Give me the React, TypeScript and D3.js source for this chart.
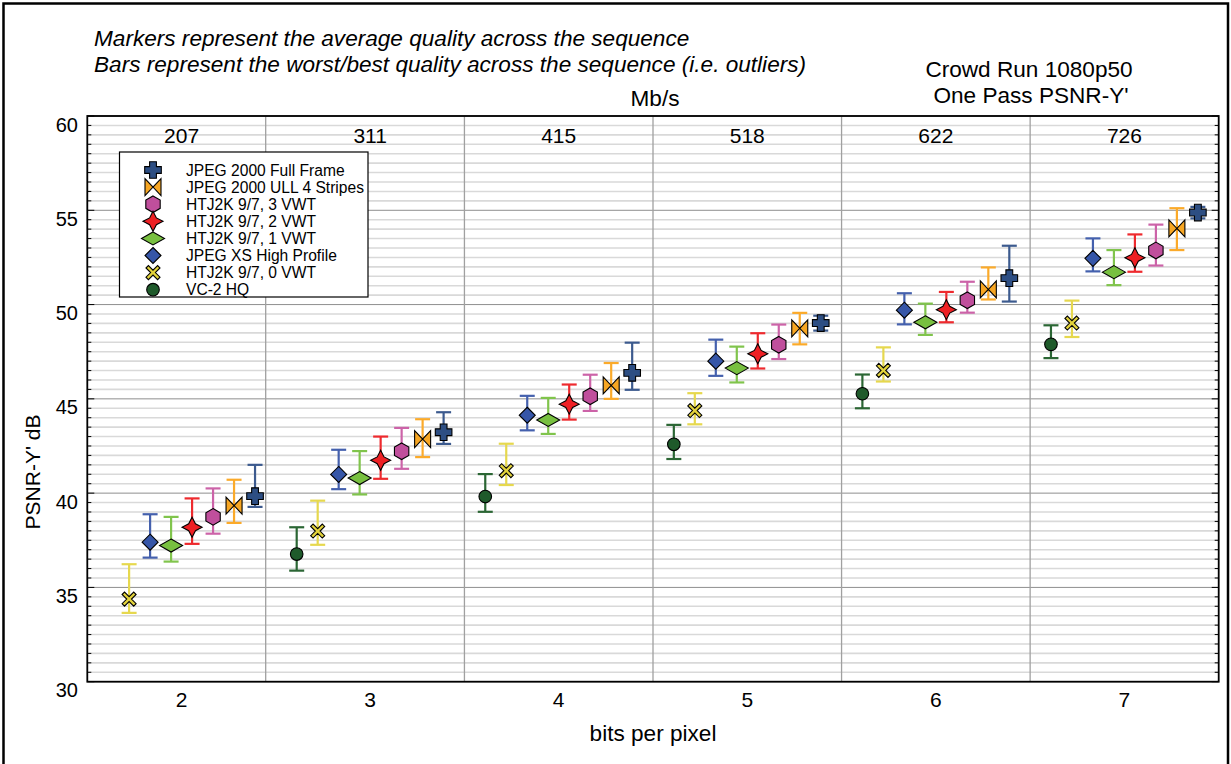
import React from 'react';
import * as d3 from 'd3';

// bits per pixel groups and matching bit rate at 1080p50
const bpp = [2, 3, 4, 5, 6, 7];
const mbps = ['207', '311', '415', '518', '622', '726'];
const dividers = [2.446, 3.5, 4.5, 5.5, 6.5];
const yTicks = [30, 35, 40, 45, 50, 55, 60];

// series, left-to-right inside each group (null = not measured)
const vc2Mean = [null, 36.77, 39.82, 42.59, 45.27, 47.89];
const vc2Lo = [null, 35.89, 39.01, 41.81, 44.5, 47.16];
const vc2Hi = [null, 38.19, 41.01, 43.62, 46.29, 48.9];

const htj0Mean = [34.38, 37.99, 41.19, 44.38, 46.51, 49.02];
const htj0Lo = [33.65, 37.26, 40.43, 43.65, 45.92, 48.28];
const htj0Hi = [36.23, 39.6, 42.62, 45.3, 47.73, 50.21];

const xsMean = [37.4, 40.99, 44.13, 47.0, 49.7, 52.45];
const xsLo = [36.58, 40.21, 43.33, 46.22, 48.95, 51.76];
const xsHi = [38.88, 42.3, 45.16, 48.14, 50.6, 53.51];

const htj1Mean = [37.22, 40.8, 43.88, 46.63, 49.06, 51.72];
const htj1Lo = [36.37, 39.93, 43.14, 45.87, 48.39, 51.03];
const htj1Hi = [38.74, 42.23, 45.05, 47.77, 50.05, 52.89];

const htj2Mean = [38.19, 41.74, 44.72, 47.39, 49.73, 52.48];
const htj2Lo = [37.31, 40.76, 43.9, 46.61, 49.06, 51.74];
const htj2Hi = [39.72, 43.0, 45.76, 48.48, 50.67, 53.72];

const htj3Mean = [38.74, 42.22, 45.14, 47.87, 50.23, 52.87];
const htj3Lo = [37.85, 41.29, 44.36, 47.11, 49.57, 52.07];
const htj3Hi = [40.25, 43.46, 46.28, 48.94, 51.21, 54.24];

const ullMean = [39.34, 42.87, 45.71, 48.74, 50.8, 54.04];
const ullLo = [38.42, 41.91, 45.0, 47.89, 50.27, 52.89];
const ullHi = [40.71, 43.92, 46.9, 49.56, 51.97, 55.11];

const ffMean = [39.84, 43.23, 46.38, 49.02, 51.4, 54.88];
const ffLo = [39.27, 42.61, 45.48, 48.62, 50.16, 54.57];
const ffHi = [41.5, 44.29, 47.98, 49.41, 53.12, 55.18];

type Shape = 'circle' | 'x' | 'diamond' | 'wide' | 'star' | 'hex' | 'bowtie' | 'plus';

const series: { name: string; shape: Shape; fill: string; bar: string; mean: (number | null)[]; lo: (number | null)[]; hi: (number | null)[] }[] = [
  { name: 'VC-2 HQ', shape: 'circle', fill: '#1f5a2b', bar: '#2b6634', mean: vc2Mean, lo: vc2Lo, hi: vc2Hi },
  { name: 'HTJ2K 9/7, 0 VWT', shape: 'x', fill: '#e3d33c', bar: '#e6d84e', mean: htj0Mean, lo: htj0Lo, hi: htj0Hi },
  { name: 'JPEG XS High Profile', shape: 'diamond', fill: '#3656a8', bar: '#4460ad', mean: xsMean, lo: xsLo, hi: xsHi },
  { name: 'HTJ2K 9/7, 1 VWT', shape: 'wide', fill: '#78c040', bar: '#80c44c', mean: htj1Mean, lo: htj1Lo, hi: htj1Hi },
  { name: 'HTJ2K 9/7, 2 VWT', shape: 'star', fill: '#ee2024', bar: '#ee2a2e', mean: htj2Mean, lo: htj2Lo, hi: htj2Hi },
  { name: 'HTJ2K 9/7, 3 VWT', shape: 'hex', fill: '#c04f9c', bar: '#cc63a8', mean: htj3Mean, lo: htj3Lo, hi: htj3Hi },
  { name: 'JPEG 2000 ULL 4 Stripes', shape: 'bowtie', fill: '#f7a623', bar: '#fbaa2a', mean: ullMean, lo: ullLo, hi: ullHi },
  { name: 'JPEG 2000 Full Frame', shape: 'plus', fill: '#2d4e83', bar: '#3c5a8e', mean: ffMean, lo: ffLo, hi: ffHi },
];

const legendOrder = [7, 6, 5, 4, 3, 2, 1, 0];

const shapePath = (s: Shape): string => {
  switch (s) {
    case 'x': {
      const a = 7, t = 2.4;
      return `M${-a},${-a + t}L${-a + t},${-a}L0,${-t}L${a - t},${-a}L${a},${-a + t}L${t},0L${a},${a - t}L${a - t},${a}L0,${t}L${-a + t},${a}L${-a},${a - t}L${-t},0Z`;
    }
    case 'diamond':
      return 'M0,-8L8,0L0,8L-8,0Z';
    case 'wide':
      return 'M0,-6.5L11.5,0L0,6.5L-11.5,0Z';
    case 'star': {
      const o = 10, i = 3.4;
      return `M0,${-o}L${i},${-i}L${o},0L${i},${i}L0,${o}L${-i},${i}L${-o},0L${-i},${-i}Z`;
    }
    case 'hex': {
      const pts = d3.range(6).map((k) => {
        const a = (Math.PI / 3) * k - Math.PI / 2;
        return [8.3 * Math.cos(a), 8.3 * Math.sin(a)];
      });
      return 'M' + pts.map((p) => p.join(',')).join('L') + 'Z';
    }
    case 'bowtie':
      return 'M-8,-8.5L0,0L-8,8.5ZM8,-8.5L0,0L8,8.5Z';
    case 'plus': {
      const a = 8.3, t = 3.4;
      return `M${-t},${-a}H${t}V${-t}H${a}V${t}H${t}V${a}H${-t}V${t}H${-a}V${-t}H${-t}Z`;
    }
    default:
      return '';
  }
};

const Marker: React.FC<{ shape: Shape; fill: string; x: number; y: number }> = ({ shape, fill, x, y }) =>
  shape === 'circle' ? (
    <circle cx={x} cy={y} r={6.3} fill={fill} stroke="#000" strokeWidth={1.1} />
  ) : (
    <path d={shapePath(shape)} transform={`translate(${x},${y})`} fill={fill} stroke="#000" strokeWidth={1.1} strokeLinejoin="miter" />
  );

const W = 1231;
const H = 764;
const left = 87.3, right = 1218.7, top = 116, bottom = 681.7;

export default function App() {
  const x = d3.scaleLinear().domain([1.5, 7.5]).range([left, right]);
  const y = d3.scaleLinear().domain([30, 60]).range([bottom, top]);
  const step = 0.1113;
  const minor = d3.range(30.5, 60, 0.5).filter((v) => Math.abs(v % 5) > 0.01);
  const font = '"Liberation Sans", Arial, Helvetica, sans-serif';

  return (
    <svg width={W} height={H} style={{ position: 'absolute', left: 0, top: 0, background: '#fff' }} fontFamily={font}>
      <rect x={3.5} y={3.5} width={1224.5} height={800} fill="none" stroke="#000" strokeWidth={2.5} />

      <text x={94} y={46} fontSize={22.6} fontStyle="italic">Markers represent the average quality across the sequence</text>
      <text x={94} y={72} fontSize={22.6} fontStyle="italic">Bars represent the worst/best quality across the sequence (i.e. outliers)</text>
      <text x={1029} y={77} fontSize={22.6} textAnchor="middle">Crowd Run 1080p50</text>
      <text x={1031} y={103} fontSize={22.6} textAnchor="middle">One Pass PSNR-Y'</text>
      <text x={655} y={106} fontSize={22.6} textAnchor="middle">Mb/s</text>

      {/* grid */}
      {minor.map((v) => (
        <line key={'m' + v} x1={left} x2={right} y1={y(v)} y2={y(v)} stroke="#d9d9d9" strokeWidth={1.6} />
      ))}
      {yTicks.map((v) => (
        <line key={'g' + v} x1={left} x2={right} y1={y(v)} y2={y(v)} stroke="#8e8e8e" strokeWidth={1} />
      ))}
      {dividers.map((d) => (
        <line key={'d' + d} x1={x(d)} x2={x(d)} y1={top} y2={bottom} stroke="#a0a0a0" strokeWidth={1.3} />
      ))}
      {minor.map((v) => (
        <g key={'t' + v} stroke="#000" strokeWidth={1}>
          <line x1={left} x2={left + 4} y1={y(v)} y2={y(v)} />
          <line x1={right - 4} x2={right} y1={y(v)} y2={y(v)} />
        </g>
      ))}
      {yTicks.map((v) => (
        <g key={'T' + v} stroke="#000" strokeWidth={1}>
          <line x1={left} x2={left + 7} y1={y(v)} y2={y(v)} />
          <line x1={right - 7} x2={right} y1={y(v)} y2={y(v)} />
        </g>
      ))}
      <rect x={left} y={top} width={right - left} height={bottom - top} fill="none" stroke="#000" strokeWidth={1.8} />

      {/* axis labels */}
      {yTicks.map((v) => (
        <text key={'yl' + v} x={78} y={y(v) + 15.5} fontSize={20} textAnchor="end">{v}</text>
      ))}
      {bpp.map((b, i) => (
        <text key={'top' + b} x={x(b)} y={143} fontSize={21} textAnchor="middle">{mbps[i]}</text>
      ))}
      {bpp.map((b) => (
        <text key={'bx' + b} x={x(b)} y={707} fontSize={21} textAnchor="middle">{b}</text>
      ))}
      <text x={653} y={741} fontSize={22.6} textAnchor="middle">bits per pixel</text>
      <text transform={`translate(40,472) rotate(-90)`} fontSize={21} textAnchor="middle">PSNR-Y' dB</text>

      {/* error bars */}
      {series.map((s, si) =>
        bpp.map((b, i) => {
          const lo = s.lo[i], hi = s.hi[i];
          if (lo == null || hi == null) return null;
          const cx = x(b + (si - 3.5) * step);
          return (
            <g key={`b${si}-${i}`} stroke={s.bar} strokeWidth={2.2}>
              <line x1={cx} x2={cx} y1={y(lo)} y2={y(hi)} />
              <line x1={cx - 7.5} x2={cx + 7.5} y1={y(lo)} y2={y(lo)} />
              <line x1={cx - 7.5} x2={cx + 7.5} y1={y(hi)} y2={y(hi)} />
            </g>
          );
        })
      )}
      {/* markers */}
      {series.map((s, si) =>
        bpp.map((b, i) => {
          const m = s.mean[i];
          if (m == null) return null;
          return <Marker key={`m${si}-${i}`} shape={s.shape} fill={s.fill} x={x(b + (si - 3.5) * step)} y={y(m)} />;
        })
      )}

      {/* legend */}
      <rect x={119.5} y={152} width={248.5} height={145} fill="#fff" stroke="#000" strokeWidth={1.2} />
      {legendOrder.map((si, r) => {
        const s = series[si];
        const ry = 170 + r * 17.1;
        return (
          <g key={'lg' + si}>
            <Marker shape={s.shape} fill={s.fill} x={153} y={ry} />
            <text x={186} y={ry + 5.5} fontSize={15.6}>{s.name}</text>
          </g>
        );
      })}
    </svg>
  );
}
